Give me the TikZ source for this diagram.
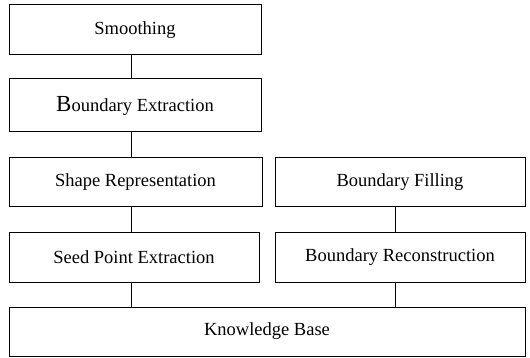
\documentclass[tikz,border=0pt]{standalone}
\usepackage{fontspec}
\setmainfont{Liberation Serif}
\begin{document}
\begin{tikzpicture}[x=1pt,y=-1pt,
  box/.style={draw=black,line width=1pt,rectangle,inner sep=0pt,
    font=\fontsize{18.5}{21}\selectfont,text=black},
  link/.style={draw=black,line width=1pt}]
\useasboundingbox (0,0) rectangle (530,358);
\node[box,minimum width=252pt,minimum height=50pt] (sm) at (135,30) {Smoothing};
\node[box,minimum width=252pt,minimum height=53pt] (be) at (135,105.5) {{\fontsize{23}{23}\selectfont B}oundary Extraction};
\node[box,minimum width=253pt,minimum height=49pt] (sr) at (135.5,182.5) {Shape Representation};
\node[box,minimum width=250pt,minimum height=49pt] (sp) at (134,257.5) {Seed Point Extraction};
\node[box,minimum width=250pt,minimum height=49pt] (bf) at (400,182.5) {Boundary Filling};
\node[box,minimum width=250pt,minimum height=49pt] (br) at (400,257.5) {Boundary Reconstruction};
\node[box,minimum width=516pt,minimum height=49pt] (kb) at (267,331.5) {Knowledge Base};
\coordinate (c1) at (131,0);
\coordinate (c2) at (395,0);
\draw[link] (sm.south -| c1) -- (be.north -| c1);
\draw[link] (be.south -| c1) -- (sr.north -| c1);
\draw[link] (sr.south -| c1) -- (sp.north -| c1);
\draw[link] (sp.south -| c1) -- (kb.north -| c1);
\draw[link] (bf.south -| c2) -- (br.north -| c2);
\draw[link] (br.south -| c2) -- (kb.north -| c2);
\end{tikzpicture}
\end{document}
